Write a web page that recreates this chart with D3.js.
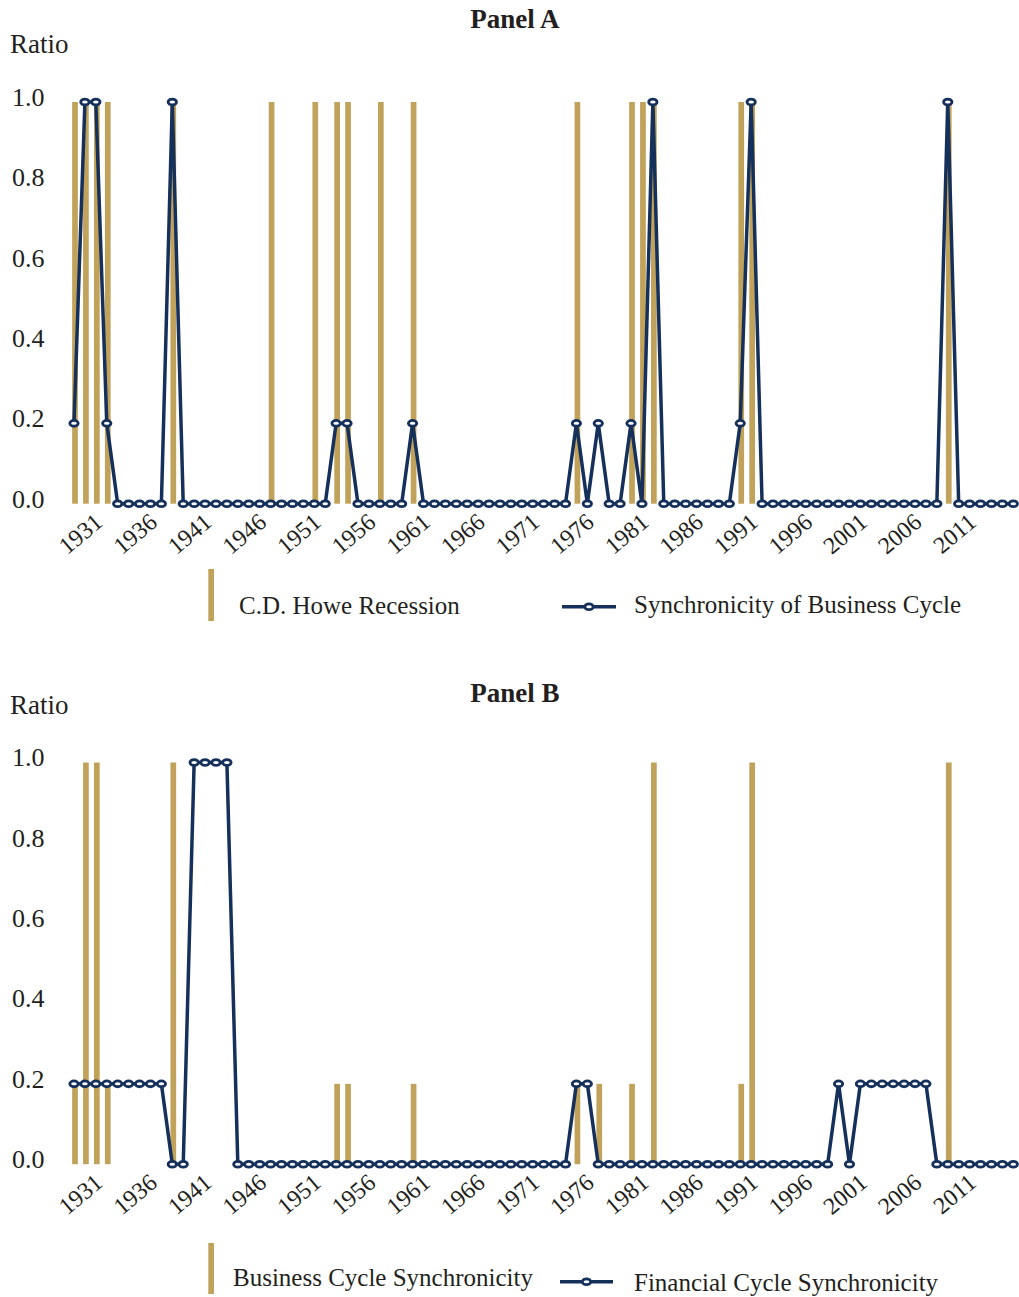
<!DOCTYPE html>
<html>
<head>
<meta charset="utf-8">
<script src="https://cdn.jsdelivr.net/npm/d3@7/dist/d3.min.js"></script>
<style>
  html, body { margin: 0; padding: 0; background: #fff; }
  svg { display: block; }
  text { font-family: "Liberation Serif", "DejaVu Serif", serif; fill: #231f20; }
</style>
</head>
<body>
<svg id="chart" width="1019" height="1297"></svg>
<script>
// ---- Data ----
const years = [1929,
  1930,1931,1932,1933,1934,1935,1936,1937,1938,1939,
  1940,1941,1942,1943,1944,1945,1946,1947,1948,1949,
  1950,1951,1952,1953,1954,1955,1956,1957,1958,1959,
  1960,1961,1962,1963,1964,1965,1966,1967,1968,1969,
  1970,1971,1972,1973,1974,1975,1976,1977,1978,1979,
  1980,1981,1982,1983,1984,1985,1986,1987,1988,1989,
  1990,1991,1992,1993,1994,1995,1996,1997,1998,1999,
  2000,2001,2002,2003,2004,2005,2006,2007,2008,2009,
  2010,2011,2012,2013,2014,2015];

const tickYears = ["1931","1936","1941","1946","1951","1956","1961","1966","1971","1976",
  "1981","1986","1991","1996","2001","2006","2011"];

const yTicks = [0, 0.2, 0.4, 0.6, 0.8, 1.0];

// Panel A bars: C.D. Howe Recession
const cdHoweRecession = [1,
  1,1,1,0,0,0,0,0,1,0,
  0,0,0,0,0,0,0,1,0,0,
  0,1,0,1,1,0,0,1,0,0,
  1,0,0,0,0,0,0,0,0,0,
  0,0,0,0,0,1,0,0,0,0,
  1,1,1,0,0,0,0,0,0,0,
  1,1,0,0,0,0,0,0,0,0,
  0,0,0,0,0,0,0,0,0,1,
  0,0,0,0,0,0];

// Panel A line: Synchronicity of Business Cycle
const syncBusinessCycle = [0.2,
  1,1,0.2,0,0,0,0,0,1,0,
  0,0,0,0,0,0,0,0,0,0,
  0,0,0,0.2,0.2,0,0,0,0,0,
  0.2,0,0,0,0,0,0,0,0,0,
  0,0,0,0,0,0.2,0,0.2,0,0,
  0.2,0,1,0,0,0,0,0,0,0,
  0.2,1,0,0,0,0,0,0,0,0,
  0,0,0,0,0,0,0,0,0,1,
  0,0,0,0,0,0];

// Panel B bars: Business Cycle Synchronicity
const businessCycleSync = [0.2,
  1,1,0.2,0,0,0,0,0,1,0,
  0,0,0,0,0,0,0,0,0,0,
  0,0,0,0.2,0.2,0,0,0,0,0,
  0.2,0,0,0,0,0,0,0,0,0,
  0,0,0,0,0,0.2,0,0.2,0,0,
  0.2,0,1,0,0,0,0,0,0,0,
  0.2,1,0,0,0,0,0,0,0,0,
  0,0,0,0,0,0,0,0,0,1,
  0,0,0,0,0,0];

// Panel B line: Financial Cycle Synchronicity
const financialCycleSync = [0.2,
  0.2,0.2,0.2,0.2,0.2,0.2,0.2,0.2,0,0,
  1,1,1,1,0,0,0,0,0,0,
  0,0,0,0,0,0,0,0,0,0,
  0,0,0,0,0,0,0,0,0,0,
  0,0,0,0,0,0.2,0.2,0,0,0,
  0,0,0,0,0,0,0,0,0,0,
  0,0,0,0,0,0,0,0,0,0.2,
  0,0.2,0.2,0.2,0.2,0.2,0.2,0.2,0,0,
  0,0,0,0,0,0];

// ---- Style ----
const GOLD = "#c0a25b";
const NAVY = "#15305a";
const FONT = "Liberation Serif, DejaVu Serif, serif";
const TXT = "#231f20";

const svg = d3.select("#chart");

const x = d3.scaleLinear().domain([1929, 2015]).range([74, 1013.3]);

function drawPanel(cfg) {
  const g = svg.append("g").attr("transform", `translate(0,${cfg.offset})`);
  const y = d3.scaleLinear().domain([0, 1]).range([503.7, 102]);

  // Title
  g.append("text").attr("x", 515).attr("y", cfg.titleY)
    .attr("text-anchor", "middle").attr("font-size", 27).attr("font-weight", "bold")
    .attr("font-family", FONT).attr("fill", TXT)
    .text(cfg.title);
  // Ratio label
  g.append("text").attr("x", 10).attr("y", 53)
    .attr("font-size", 27).attr("font-family", FONT).attr("fill", TXT).text("Ratio");

  // Y axis (labels only)
  const yAxis = d3.axisLeft(y).tickValues(yTicks).tickFormat(d3.format(".1f")).tickSize(0).tickPadding(0);
  const ya = g.append("g").attr("transform", "translate(12,0)").call(yAxis)
    .attr("font-family", FONT);
  ya.select(".domain").remove();
  ya.selectAll("text")
    .attr("text-anchor", "start").attr("x", 0).attr("dy", "0.32em")
    .attr("transform", "translate(0,-5)")
    .attr("font-size", 26).attr("font-family", FONT).attr("fill", TXT);

  // X axis (labels only)
  const xAxis = d3.axisBottom(x).tickValues(tickYears.map(Number)).tickFormat(d => String(d)).tickSize(0).tickPadding(0);
  const xa = g.append("g").attr("transform", "translate(0,520)").call(xAxis)
    .attr("font-family", FONT);
  xa.select(".domain").remove();
  xa.selectAll("text")
    .attr("y", 0).attr("dy", "0.35em").attr("x", 3)
    .attr("text-anchor", "end")
    .attr("transform", "rotate(-40)")
    .attr("font-size", 24).attr("font-family", FONT).attr("fill", TXT);

  // Bars
  const barW = 5.7;
  g.append("g").selectAll("rect")
    .data(years.map((yr, i) => ({yr, v: cfg.bars[i]})).filter(d => d.v > 0))
    .join("rect")
    .attr("x", d => x(d.yr) - barW / 2 + 1)
    .attr("width", barW)
    .attr("y", d => y(d.v))
    .attr("height", d => y(0) - y(d.v))
    .attr("fill", GOLD);

  // Line
  const pts = years.map((yr, i) => ({yr, v: cfg.line[i]}));
  g.append("path").datum(pts)
    .attr("fill", "none").attr("stroke", NAVY).attr("stroke-width", 3.5)
    .attr("stroke-linejoin", "miter")
    .attr("d", d3.line().x(d => x(d.yr)).y(d => y(d.v)));

  // Markers
  g.append("g").selectAll("ellipse").data(pts).join("ellipse")
    .attr("cx", d => x(d.yr)).attr("cy", d => y(d.v))
    .attr("rx", 4.2).attr("ry", 2.9)
    .attr("fill", "#fff").attr("stroke", NAVY).attr("stroke-width", 2.8);

  // Legend
  const L = cfg.legend;
  g.append("rect").attr("x", 208.3).attr("y", L.barTop).attr("width", 5.7)
    .attr("height", L.barBottom - L.barTop).attr("fill", GOLD);
  g.append("text").attr("x", L.text1X).attr("y", L.text1Y).attr("font-size", 25)
    .attr("font-family", FONT).attr("fill", TXT).text(cfg.barName);
  g.append("line").attr("x1", L.lineX1).attr("x2", L.lineX2).attr("y1", L.lineY).attr("y2", L.lineY)
    .attr("stroke", NAVY).attr("stroke-width", 3.5);
  g.append("ellipse").attr("cx", (L.lineX1 + L.lineX2) / 2).attr("cy", L.lineY)
    .attr("rx", 4.2).attr("ry", 2.9).attr("fill", "#fff").attr("stroke", NAVY).attr("stroke-width", 2.8);
  g.append("text").attr("x", 634).attr("y", L.text2Y).attr("font-size", 25)
    .attr("font-family", FONT).attr("fill", TXT).text(cfg.lineName);
}

drawPanel({
  offset: 0, title: "Panel A", titleY: 27.5,
  bars: cdHoweRecession, line: syncBusinessCycle,
  barName: "C.D. Howe Recession", lineName: "Synchronicity of Business Cycle",
  legend: {barTop: 569, barBottom: 621, text1X: 239, text1Y: 614, lineX1: 562, lineX2: 616, lineY: 606.7, text2Y: 613}
});

drawPanel({
  offset: 660.5, title: "Panel B", titleY: 41,
  bars: businessCycleSync, line: financialCycleSync,
  barName: "Business Cycle Synchronicity", lineName: "Financial Cycle Synchronicity",
  legend: {barTop: 582.5, barBottom: 633.5, text1X: 233, text1Y: 625.5, lineX1: 560, lineX2: 613, lineY: 621.2, text2Y: 630}
});
</script>
</body>
</html>
